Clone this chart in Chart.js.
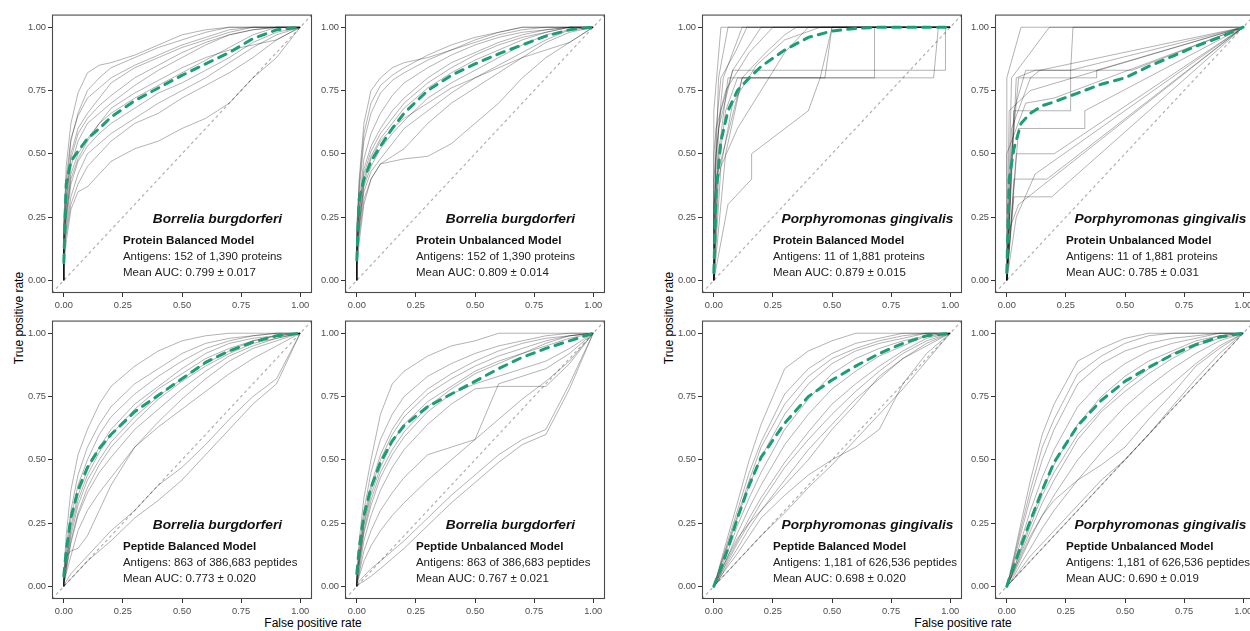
<!DOCTYPE html>
<html>
<head>
<meta charset="utf-8">
<script src="https://cdn.jsdelivr.net/npm/chart.js@4/dist/chart.umd.min.js"></script>
<style>
  body { margin: 0; width: 1250px; height: 631px; overflow: hidden; background: #fff; position: relative;
         font-family: "Liberation Sans", Arial, sans-serif; }
  canvas { position: absolute; }
  .ytitle, .xtitle { position: absolute; font-size: 12px; line-height: 14px; color: #000; white-space: nowrap; }
  .ytitle { transform: translate(-50%, -50%) rotate(-90deg); }
  .xtitle { transform: translateX(-50%); }
</style>
</head>
<body>
<div class="ytitle" style="left:19px; top:318px">True positive rate</div>
<div class="ytitle" style="left:669px; top:318px">True positive rate</div>
<div class="xtitle" style="left:313px; top:616px">False positive rate</div>
<div class="xtitle" style="left:963px; top:616px">False positive rate</div>
<script>
// shared false positive rate grid (first two entries: start and vertical rise at fpr = 0)
const FPR = [0, 0, 0.01, 0.03, 0.06, 0.1, 0.15, 0.2, 0.3, 0.4, 0.5, 0.6, 0.7, 0.8, 0.9, 1];
const TICKS = [0, 0.25, 0.5, 0.75, 1];
const DIAG = [-0.05, 1.05];

const species = ['Borrelia burgdorferi', 'Borrelia burgdorferi', 'Porphyromonas gingivalis', 'Porphyromonas gingivalis',
                 'Borrelia burgdorferi', 'Borrelia burgdorferi', 'Porphyromonas gingivalis', 'Porphyromonas gingivalis'];
const models = ['Protein Balanced Model', 'Protein Unbalanced Model', 'Protein Balanced Model', 'Protein Unbalanced Model',
                'Peptide Balanced Model', 'Peptide Unbalanced Model', 'Peptide Balanced Model', 'Peptide Unbalanced Model'];
const antigens = ['Antigens: 152 of 1,390 proteins', 'Antigens: 152 of 1,390 proteins',
                  'Antigens: 11 of 1,881 proteins', 'Antigens: 11 of 1,881 proteins',
                  'Antigens: 863 of 386,683 peptides', 'Antigens: 863 of 386,683 peptides',
                  'Antigens: 1,181 of 626,536 peptides', 'Antigens: 1,181 of 626,536 peptides'];
const aucs = ['Mean AUC: 0.799 ± 0.017', 'Mean AUC: 0.809 ± 0.014', 'Mean AUC: 0.879 ± 0.015', 'Mean AUC: 0.785 ± 0.031',
              'Mean AUC: 0.773 ± 0.020', 'Mean AUC: 0.767 ± 0.021', 'Mean AUC: 0.698 ± 0.020', 'Mean AUC: 0.690 ± 0.019'];

// mean ROC curves (tpr on FPR grid)
const meanBbProtBal   = [0.07, 0.07, 0.38, 0.47, 0.51, 0.56, 0.60, 0.645, 0.71, 0.76, 0.81, 0.855, 0.90, 0.955, 0.99, 1];
const meanBbProtUnbal = [0.08, 0.08, 0.32, 0.40, 0.47, 0.53, 0.60, 0.66, 0.75, 0.81, 0.855, 0.895, 0.93, 0.965, 0.99, 1];
const meanPgProtBal   = [0.03, 0.03, 0.35, 0.55, 0.67, 0.75, 0.80, 0.845, 0.91, 0.96, 0.985, 0.995, 1, 1, 1, 1];
const meanPgProtUnbal = [0.03, 0.03, 0.40, 0.52, 0.62, 0.66, 0.69, 0.705, 0.74, 0.775, 0.80, 0.845, 0.885, 0.925, 0.96, 1];
const meanBbPepBal    = [0.04, 0.04, 0.14, 0.27, 0.38, 0.47, 0.545, 0.60, 0.69, 0.755, 0.82, 0.885, 0.93, 0.965, 0.99, 1];
const meanBbPepUnbal  = [0.05, 0.05, 0.15, 0.28, 0.39, 0.49, 0.575, 0.635, 0.71, 0.76, 0.81, 0.86, 0.905, 0.94, 0.97, 1];
const meanPgPepBal    = [0, 0, 0.025, 0.07, 0.15, 0.27, 0.40, 0.51, 0.645, 0.75, 0.815, 0.87, 0.92, 0.96, 0.99, 1];
const meanPgPepUnbal  = [0, 0, 0.03, 0.08, 0.16, 0.26, 0.38, 0.49, 0.635, 0.735, 0.81, 0.865, 0.915, 0.955, 0.985, 1];

// individual antigen ROC curves
const runsBbProtBal = [
  [0, 0.20, 0.45, 0.62, 0.74, 0.82, 0.85, 0.86, 0.89, 0.93, 0.97, 0.99, 1, 1, 1, 1],
  [0, 0.15, 0.35, 0.55, 0.66, 0.75, 0.80, 0.84, 0.88, 0.92, 0.95, 0.98, 1, 1, 1, 1],
  [0, 0.22, 0.30, 0.50, 0.60, 0.66, 0.72, 0.78, 0.84, 0.88, 0.92, 0.95, 0.98, 1, 1, 1],
  [0, 0.12, 0.28, 0.45, 0.55, 0.62, 0.66, 0.70, 0.77, 0.83, 0.88, 0.93, 0.97, 0.99, 1, 1],
  [0, 0.18, 0.25, 0.42, 0.50, 0.56, 0.62, 0.66, 0.72, 0.77, 0.82, 0.87, 0.92, 0.97, 1, 1],
  [0, 0.10, 0.22, 0.38, 0.47, 0.53, 0.58, 0.62, 0.68, 0.74, 0.78, 0.83, 0.88, 0.94, 0.98, 1],
  [0, 0.08, 0.20, 0.33, 0.42, 0.50, 0.54, 0.58, 0.64, 0.70, 0.75, 0.80, 0.86, 0.92, 0.97, 1],
  [0, 0.14, 0.18, 0.30, 0.38, 0.45, 0.50, 0.55, 0.62, 0.66, 0.72, 0.77, 0.82, 0.88, 0.95, 1],
  [0, 0.05, 0.15, 0.28, 0.35, 0.37, 0.42, 0.47, 0.52, 0.55, 0.60, 0.64, 0.70, 0.80, 0.88, 1],
  [0, 0.16, 0.25, 0.40, 0.48, 0.55, 0.62, 0.68, 0.74, 0.79, 0.84, 0.88, 0.91, 0.93, 0.95, 1],
  [0, 0.25, 0.40, 0.56, 0.65, 0.72, 0.76, 0.80, 0.85, 0.89, 0.93, 0.96, 0.99, 1, 1, 1],
  [0, 0.12, 0.33, 0.48, 0.58, 0.64, 0.69, 0.73, 0.80, 0.85, 0.90, 0.94, 0.97, 0.99, 1, 1]
];
const runsBbProtUnbal = [
  [0, 0.15, 0.40, 0.62, 0.75, 0.80, 0.84, 0.86, 0.88, 0.91, 0.95, 0.98, 1, 1, 1, 1],
  [0, 0.20, 0.35, 0.55, 0.66, 0.74, 0.79, 0.82, 0.87, 0.91, 0.94, 0.97, 0.99, 1, 1, 1],
  [0, 0.12, 0.30, 0.48, 0.58, 0.66, 0.73, 0.78, 0.84, 0.89, 0.93, 0.96, 0.98, 0.99, 1, 1],
  [0, 0.10, 0.27, 0.44, 0.53, 0.60, 0.67, 0.72, 0.80, 0.86, 0.90, 0.94, 0.97, 0.99, 1, 1],
  [0, 0.18, 0.25, 0.40, 0.49, 0.56, 0.62, 0.68, 0.76, 0.82, 0.87, 0.91, 0.95, 0.98, 1, 1],
  [0, 0.08, 0.22, 0.37, 0.45, 0.52, 0.58, 0.63, 0.72, 0.78, 0.83, 0.88, 0.93, 0.97, 0.99, 1],
  [0, 0.10, 0.20, 0.35, 0.43, 0.48, 0.54, 0.60, 0.67, 0.74, 0.80, 0.85, 0.90, 0.95, 0.99, 1],
  [0, 0.06, 0.18, 0.32, 0.40, 0.46, 0.49, 0.52, 0.62, 0.70, 0.76, 0.82, 0.88, 0.94, 0.98, 1],
  [0, 0.05, 0.15, 0.30, 0.40, 0.46, 0.47, 0.48, 0.49, 0.54, 0.62, 0.70, 0.80, 0.88, 0.94, 1],
  [0, 0.12, 0.22, 0.38, 0.48, 0.55, 0.60, 0.64, 0.70, 0.76, 0.80, 0.84, 0.88, 0.91, 0.94, 1],
  [0, 0.22, 0.38, 0.58, 0.70, 0.77, 0.81, 0.84, 0.89, 0.93, 0.96, 0.98, 1, 1, 1, 1],
  [0, 0.14, 0.28, 0.42, 0.51, 0.58, 0.64, 0.70, 0.78, 0.84, 0.89, 0.93, 0.96, 0.98, 1, 1]
];
// few-antigen panels: curves as [fpr, tpr] points
const runsPgProtBal = [
  [[0, 0], [0, 0.2], [0.02, 0.8], [0.06, 1], [1, 1]],
  [[0, 0], [0, 0.4], [0.04, 0.8], [0.12, 1], [1, 1]],
  [[0, 0], [0.01, 0.5], [0.03, 0.67], [0.08, 0.83], [0.2, 1], [1, 1]],
  [[0, 0], [0, 0.3], [0.05, 0.67], [0.1, 0.8], [0.47, 0.8], [0.5, 1], [1, 1]],
  [[0, 0], [0.02, 0.5], [0.06, 0.8], [0.68, 0.8], [0.68, 1], [1, 1]],
  [[0, 0], [0.02, 0.6], [0.08, 0.83], [0.98, 0.83], [0.98, 1], [1, 1]],
  [[0, 0], [0.01, 0.4], [0.12, 0.8], [0.93, 0.8], [0.95, 1], [1, 1]],
  [[0, 0], [0.06, 0.3], [0.16, 0.4], [0.16, 0.5], [0.4, 0.67], [0.45, 0.8], [0.5, 1], [1, 1]],
  [[0, 0], [0.03, 0.45], [0.1, 0.6], [0.2, 0.75], [0.3, 0.9], [0.4, 1], [1, 1]],
  [[0, 0], [0.01, 0.6], [0.05, 0.75], [0.15, 0.9], [0.25, 1], [1, 1]],
  [[0, 0], [0, 0.5], [0.03, 0.8], [0.09, 0.9], [0.14, 1], [1, 1]],
  [[0, 0], [0.02, 0.4], [0.08, 0.7], [0.18, 0.85], [0.3, 0.95], [0.45, 1], [1, 1]],
  [[0, 0], [0, 0.67], [0.03, 1], [1, 1]],
  [[0, 0], [0.05, 0.5], [0.12, 0.8], [0.22, 0.9], [0.3, 0.97], [0.35, 1], [1, 1]]
];
const runsPgProtUnbal = [
  [[0, 0], [0, 0.8], [0.06, 1], [1, 1]],
  [[0, 0], [0.02, 0.8], [0.18, 1], [1, 1]],
  [[0, 0], [0.03, 0.67], [0.08, 0.83], [0.53, 0.83], [1, 1]],
  [[0, 0], [0.04, 0.8], [0.12, 0.83], [0.27, 0.83], [0.28, 1], [1, 1]],
  [[0, 0], [0.02, 0.5], [0.05, 0.8], [0.38, 0.8], [0.38, 0.83], [1, 1]],
  [[0, 0], [0.03, 0.67], [0.27, 0.67], [0.27, 0.83], [1, 1]],
  [[0, 0], [0.05, 0.6], [0.33, 0.6], [0.33, 0.67], [1, 1]],
  [[0, 0], [0.04, 0.5], [0.2, 0.5], [1, 1]],
  [[0, 0], [0.03, 0.4], [0.17, 0.4], [1, 1]],
  [[0, 0], [0.03, 0.33], [0.19, 0.33], [1, 1]],
  [[0, 0], [0.01, 0.2], [0.05, 0.3], [1, 1]],
  [[0, 0], [0.02, 0.6], [0.1, 0.8], [0.14, 0.83], [1, 1]],
  [[0, 0], [0, 0.5], [0.08, 0.7], [0.2, 0.72], [1, 1]],
  [[0, 0], [0.04, 0.25], [0.12, 0.42], [1, 1]],
  [[0, 0], [0.01, 0.67], [0.1, 0.75], [1, 1]]
];
const runsBbPepBal = [
  [0, 0.05, 0.20, 0.38, 0.52, 0.62, 0.72, 0.79, 0.87, 0.93, 0.97, 0.99, 1, 1, 1, 1],
  [0, 0.04, 0.15, 0.30, 0.44, 0.55, 0.64, 0.71, 0.80, 0.86, 0.92, 0.96, 0.98, 0.99, 1, 1],
  [0, 0.03, 0.12, 0.27, 0.40, 0.50, 0.60, 0.67, 0.76, 0.83, 0.89, 0.94, 0.97, 0.99, 1, 1],
  [0, 0.02, 0.10, 0.24, 0.36, 0.46, 0.55, 0.62, 0.72, 0.79, 0.86, 0.92, 0.96, 0.98, 0.99, 1],
  [0, 0.02, 0.08, 0.20, 0.32, 0.42, 0.50, 0.57, 0.67, 0.75, 0.82, 0.88, 0.93, 0.97, 0.99, 1],
  [0, 0.01, 0.06, 0.17, 0.28, 0.37, 0.45, 0.51, 0.62, 0.70, 0.78, 0.85, 0.91, 0.95, 0.98, 1],
  [0, 0.03, 0.12, 0.14, 0.15, 0.20, 0.30, 0.40, 0.55, 0.65, 0.74, 0.82, 0.89, 0.94, 0.97, 1],
  [0, 0.01, 0.05, 0.12, 0.22, 0.30, 0.37, 0.43, 0.55, 0.63, 0.70, 0.77, 0.84, 0.90, 0.95, 1],
  [0, 0, 0.02, 0.05, 0.08, 0.12, 0.17, 0.22, 0.30, 0.40, 0.47, 0.56, 0.66, 0.75, 0.82, 1],
  [0, 0, 0.01, 0.03, 0.06, 0.10, 0.14, 0.18, 0.27, 0.34, 0.42, 0.52, 0.62, 0.72, 0.80, 1],
  [0, 0.02, 0.09, 0.22, 0.34, 0.44, 0.53, 0.60, 0.70, 0.78, 0.84, 0.90, 0.94, 0.97, 0.99, 1],
  [0, 0.01, 0.07, 0.18, 0.29, 0.39, 0.48, 0.55, 0.65, 0.74, 0.81, 0.87, 0.92, 0.96, 0.98, 1]
];
const runsBbPepUnbal = [
  [0, 0.05, 0.18, 0.35, 0.50, 0.68, 0.80, 0.85, 0.91, 0.95, 0.97, 1, 1, 1, 1, 1],
  [0, 0.04, 0.14, 0.30, 0.45, 0.58, 0.68, 0.75, 0.83, 0.88, 0.92, 0.95, 0.97, 0.99, 1, 1],
  [0, 0.03, 0.12, 0.27, 0.40, 0.52, 0.62, 0.69, 0.78, 0.84, 0.89, 0.93, 0.96, 0.98, 0.99, 1],
  [0, 0.02, 0.10, 0.24, 0.36, 0.47, 0.57, 0.64, 0.73, 0.79, 0.85, 0.89, 0.92, 0.95, 0.98, 1],
  [0, 0.02, 0.08, 0.21, 0.32, 0.43, 0.52, 0.59, 0.69, 0.76, 0.80, 0.83, 0.86, 0.89, 0.94, 1],
  [0, 0.01, 0.06, 0.18, 0.28, 0.38, 0.47, 0.54, 0.64, 0.72, 0.78, 0.79, 0.79, 0.79, 0.88, 1],
  [0, 0.01, 0.05, 0.14, 0.22, 0.30, 0.37, 0.43, 0.52, 0.55, 0.58, 0.80, 0.83, 0.86, 0.92, 1],
  [0, 0.01, 0.04, 0.10, 0.16, 0.22, 0.28, 0.33, 0.42, 0.50, 0.58, 0.66, 0.74, 0.81, 0.89, 1],
  [0, 0, 0.02, 0.04, 0.07, 0.10, 0.14, 0.18, 0.27, 0.36, 0.44, 0.52, 0.58, 0.62, 0.80, 1],
  [0, 0, 0.01, 0.02, 0.04, 0.07, 0.11, 0.15, 0.24, 0.33, 0.41, 0.49, 0.56, 0.60, 0.78, 1],
  [0, 0.03, 0.11, 0.25, 0.38, 0.50, 0.60, 0.67, 0.76, 0.82, 0.87, 0.91, 0.94, 0.97, 0.99, 1],
  [0, 0.02, 0.09, 0.22, 0.34, 0.45, 0.54, 0.61, 0.71, 0.78, 0.84, 0.88, 0.92, 0.96, 0.99, 1]
];
const runsPgPepBal = [
  [0, 0, 0.03, 0.10, 0.20, 0.33, 0.50, 0.64, 0.86, 0.93, 0.97, 1, 1, 1, 1, 1],
  [0, 0, 0.03, 0.09, 0.18, 0.30, 0.45, 0.57, 0.76, 0.86, 0.92, 0.96, 0.98, 1, 1, 1],
  [0, 0, 0.02, 0.08, 0.16, 0.27, 0.40, 0.51, 0.68, 0.80, 0.88, 0.93, 0.96, 0.98, 1, 1],
  [0, 0, 0.02, 0.07, 0.14, 0.24, 0.35, 0.45, 0.62, 0.74, 0.84, 0.90, 0.94, 0.97, 0.99, 1],
  [0, 0, 0.02, 0.06, 0.12, 0.21, 0.31, 0.40, 0.56, 0.68, 0.78, 0.85, 0.91, 0.95, 0.99, 1],
  [0, 0, 0.02, 0.05, 0.11, 0.18, 0.27, 0.35, 0.49, 0.61, 0.72, 0.80, 0.87, 0.93, 0.98, 1],
  [0, 0, 0.01, 0.04, 0.09, 0.15, 0.23, 0.30, 0.42, 0.54, 0.64, 0.74, 0.82, 0.90, 0.96, 1],
  [0, 0, 0.01, 0.04, 0.08, 0.13, 0.20, 0.27, 0.36, 0.44, 0.50, 0.55, 0.62, 0.80, 0.92, 1],
  [0, 0, 0.01, 0.03, 0.06, 0.10, 0.15, 0.20, 0.29, 0.39, 0.48, 0.58, 0.68, 0.78, 0.89, 1],
  [0, 0, 0.02, 0.06, 0.12, 0.19, 0.25, 0.30, 0.40, 0.50, 0.62, 0.72, 0.83, 0.90, 0.95, 1],
  [0, 0, 0.03, 0.09, 0.17, 0.28, 0.42, 0.55, 0.72, 0.83, 0.90, 0.94, 0.97, 0.99, 1, 1],
  [0, 0, 0.01, 0.05, 0.10, 0.17, 0.25, 0.33, 0.47, 0.58, 0.68, 0.77, 0.85, 0.92, 0.97, 1]
];
const runsPgPepUnbal = [
  [0, 0, 0.04, 0.12, 0.25, 0.42, 0.60, 0.72, 0.89, 0.94, 0.98, 1, 1, 1, 1, 1],
  [0, 0, 0.03, 0.10, 0.21, 0.35, 0.50, 0.62, 0.80, 0.88, 0.93, 0.96, 0.98, 0.99, 1, 1],
  [0, 0, 0.03, 0.09, 0.18, 0.30, 0.43, 0.54, 0.71, 0.81, 0.88, 0.93, 0.96, 0.98, 1, 1],
  [0, 0, 0.02, 0.07, 0.15, 0.26, 0.38, 0.48, 0.64, 0.75, 0.83, 0.89, 0.93, 0.97, 0.99, 1],
  [0, 0, 0.02, 0.06, 0.13, 0.22, 0.33, 0.42, 0.58, 0.69, 0.77, 0.84, 0.90, 0.95, 0.98, 1],
  [0, 0, 0.02, 0.05, 0.11, 0.19, 0.28, 0.36, 0.50, 0.61, 0.71, 0.79, 0.86, 0.92, 0.97, 1],
  [0, 0, 0.01, 0.04, 0.09, 0.15, 0.23, 0.30, 0.42, 0.53, 0.63, 0.72, 0.80, 0.88, 0.95, 1],
  [0, 0, 0.01, 0.03, 0.07, 0.12, 0.17, 0.22, 0.32, 0.42, 0.50, 0.60, 0.70, 0.80, 0.90, 1],
  [0, 0, 0.02, 0.06, 0.12, 0.20, 0.28, 0.34, 0.42, 0.48, 0.55, 0.66, 0.76, 0.87, 0.94, 1],
  [0, 0, 0.01, 0.03, 0.06, 0.10, 0.15, 0.20, 0.30, 0.40, 0.50, 0.60, 0.71, 0.82, 0.92, 1],
  [0, 0, 0.03, 0.11, 0.23, 0.38, 0.55, 0.66, 0.84, 0.91, 0.96, 0.99, 1, 1, 1, 1],
  [0, 0, 0.02, 0.07, 0.14, 0.24, 0.36, 0.45, 0.60, 0.70, 0.79, 0.86, 0.92, 0.96, 0.99, 1]
];

const means = [meanBbProtBal, meanBbProtUnbal, meanPgProtBal, meanPgProtUnbal,
               meanBbPepBal, meanBbPepUnbal, meanPgPepBal, meanPgPepUnbal];
const runs = [runsBbProtBal, runsBbProtUnbal, runsPgProtBal, runsPgProtUnbal,
              runsBbPepBal, runsBbPepUnbal, runsPgPepBal, runsPgPepUnbal];

// panel box (top-left corner of plot area) on the page
const panelPos = [[52, 12], [345, 12], [702, 12], [995, 12], [52, 318], [345, 318], [702, 318], [995, 318]];

const FONT = '"Liberation Sans", Arial, sans-serif';
Chart.defaults.font.family = FONT;

function toPoints(run) {
    if (Array.isArray(run[0])) {
        return run.map(p => ({ x: p[0], y: p[1] }));
    }
    return run.map((v, k) => ({ x: FPR[k], y: v }));
}

let panelDecor = {
    id: 'panelDecor',
    afterDraw: function (chart, args, opts) {
        let ctx = chart.ctx;
        let a = chart.chartArea;
        let xs = chart.scales.x;
        let ys = chart.scales.y;
        ctx.save();
        ctx.strokeStyle = '#4a4a4a';
        ctx.lineWidth = 1.1;
        ctx.strokeRect(a.left + 0.5, a.top + 0.5, a.right - a.left - 1, a.bottom - a.top - 1);
        ctx.fillStyle = '#111';
        ctx.textBaseline = 'middle';
        ctx.textAlign = 'center';
        ctx.font = 'italic bold 13.7px ' + FONT;
        ctx.fillText(opts.species, xs.getPixelForValue(0.65), ys.getPixelForValue(0.243));
        ctx.textAlign = 'left';
        ctx.font = 'bold 11.6px ' + FONT;
        ctx.fillText(opts.model, xs.getPixelForValue(0.25), ys.getPixelForValue(0.155));
        ctx.fillStyle = '#222';
        ctx.font = '11.5px ' + FONT;
        ctx.fillText(opts.antigens, xs.getPixelForValue(0.25), ys.getPixelForValue(0.093));
        ctx.fillText(opts.auc, xs.getPixelForValue(0.25), ys.getPixelForValue(0.031));
        ctx.restore();
    }
};

function axisConfig(isX) {
    return {
        type: 'linear',
        min: DIAG[0],
        max: DIAG[1],
        afterBuildTicks: function (scale) {
            scale.ticks = TICKS.map(v => ({ value: v }));
        },
        afterFit: function (scale) {
            if (isX) scale.height = 20; else scale.width = 40;
        },
        ticks: {
            autoSkip: false,
            maxRotation: 0,
            padding: isX ? 3 : 2,
            color: '#4d4d4d',
            font: { size: 9.3, family: FONT },
            callback: v => Number(v).toFixed(2)
        },
        grid: { drawOnChartArea: false, drawTicks: true, tickLength: 4, color: '#333', lineWidth: 1 },
        border: { display: false }
    };
}

for (let i = 0; i < 8; i++) {
    let canvas = document.createElement('canvas');
    canvas.width = 305;
    canvas.height = 306;
    canvas.style.left = (panelPos[i][0] - 40) + 'px';
    canvas.style.top = (panelPos[i][1] - 5) + 'px';
    document.body.appendChild(canvas);

    let datasets = [];
    datasets.push({
        data: DIAG.map(v => ({ x: v, y: v })),
        borderColor: '#b0b0b0',
        borderWidth: 1.2,
        borderDash: [3, 3],
        pointRadius: 0,
        order: 3
    });
    runs[i].forEach(function (run) {
        datasets.push({
            data: toPoints(run),
            borderColor: 'rgba(0,0,0,0.3)',
            borderWidth: 1,
            pointRadius: 0,
            tension: 0,
            order: 2
        });
    });
    datasets.push({
        data: toPoints(means[i]),
        borderColor: '#1b9e77',
        borderWidth: 3,
        borderDash: [8, 7],
        borderCapStyle: 'round',
        pointRadius: 0,
        tension: 0,
        order: 1
    });

    new Chart(canvas.getContext('2d'), {
        type: 'line',
        data: { datasets: datasets },
        options: {
            responsive: false,
            animation: false,
            events: [],
            layout: { autoPadding: false, padding: { left: 0, top: 5, right: 5, bottom: 0 } },
            scales: { x: axisConfig(true), y: axisConfig(false) },
            plugins: {
                legend: { display: false },
                tooltip: { enabled: false },
                panelDecor: { species: species[i], model: models[i], antigens: antigens[i], auc: aucs[i] }
            }
        },
        plugins: [panelDecor]
    });
}
</script>
</body>
</html>
